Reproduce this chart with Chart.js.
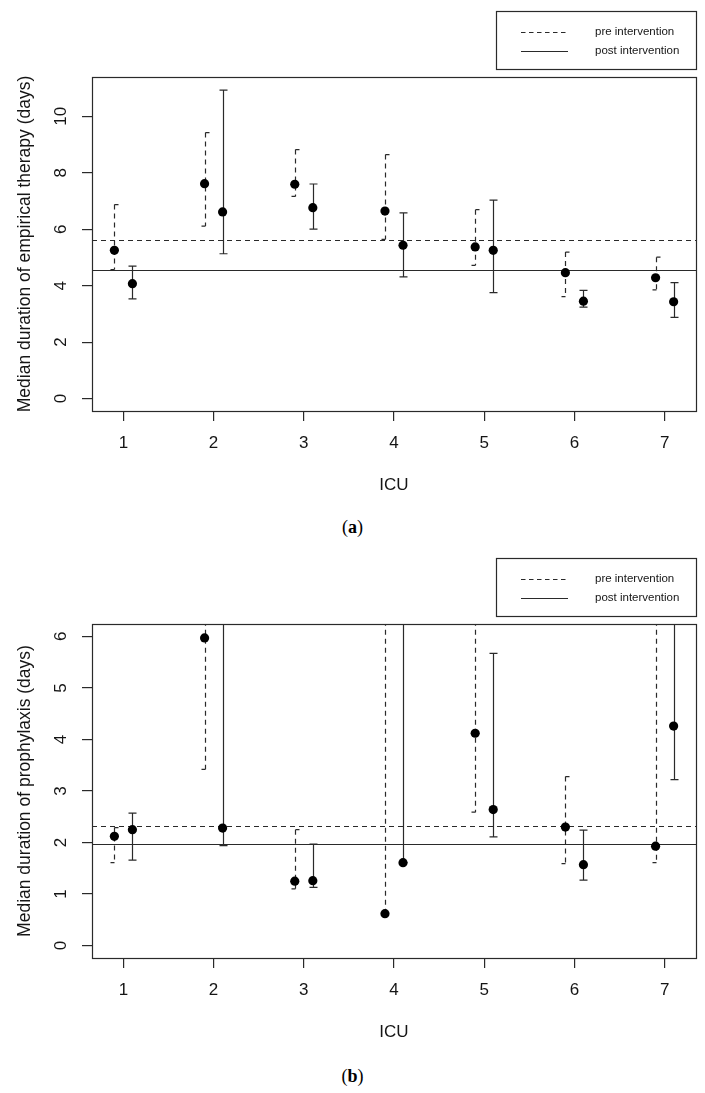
<!DOCTYPE html>
<html><head><meta charset="utf-8">
<script src="https://cdn.jsdelivr.net/npm/chart.js@4/dist/chart.umd.min.js"></script>
<style>
html,body{margin:0;padding:0;background:#fff;}
body{width:705px;height:1093px;position:relative;overflow:hidden;}
canvas{position:absolute;left:0;}
#ca{top:0;} #cb{top:547px;}
.cap{position:absolute;left:0;width:705px;text-align:center;font-family:'Liberation Serif','DejaVu Serif',serif;font-size:18px;line-height:20px;color:#000;}
</style></head><body>
<canvas id="ca" width="705" height="500"></canvas>
<div class="cap" style="top:517px">(<b>a</b>)</div>
<canvas id="cb" width="705" height="500"></canvas>
<div class="cap" style="top:1066px">(<b>b</b>)</div>
<script>
// ---------- data ----------
const icu = [1, 2, 3, 4, 5, 6, 7];
const xTicks = [1, 2, 3, 4, 5, 6, 7];
const xLim = [0.9, 7.1];

// (a) empirical therapy
const aYTicks = [0, 2, 4, 6, 8, 10];
const aYLim = [0, 10.95];
const aPreMed  = [5.25, 7.61, 7.59, 6.64, 5.37, 4.46, 4.28];
const aPreLo   = [4.57, 6.11, 7.16, 5.64, 4.72, 3.61, 3.85];
const aPreHi   = [6.87, 9.42, 8.82, 8.64, 6.69, 5.19, 5.01];
const aPostMed = [4.07, 6.61, 6.76, 5.43, 5.25, 3.45, 3.43];
const aPostLo  = [3.53, 5.13, 6.00, 4.31, 3.75, 3.24, 2.88];
const aPostHi  = [4.69, 10.92, 7.60, 6.58, 7.03, 3.83, 4.11];
const aPreOverall = 5.63;
const aPostOverall = 4.57;

// (b) prophylaxis (upper limits of 7 are off-scale estimates, clipped at the frame)
const bYTicks = [0, 1, 2, 3, 4, 5, 6];
const bYLim = [0, 6];
const bPreMed  = [2.12, 5.97, 1.25, 0.62, 4.12, 2.30, 1.93];
const bPreLo   = [1.61, 3.42, 1.10, 0.62, 2.59, 1.59, 1.61];
const bPreHi   = [2.29, 7.0, 2.25, 7.0, 7.0, 3.28, 7.0];
const bPostMed = [2.25, 2.28, 1.26, 1.61, 2.64, 1.57, 4.26];
const bPostLo  = [1.66, 1.94, 1.13, 1.61, 2.11, 1.27, 3.22];
const bPostHi  = [2.57, 7.0, 1.97, 7.0, 5.67, 2.24, 7.0];
const bPreOverall = 2.33;
const bPostOverall = 1.98;

const legendLabels = ['pre intervention', 'post intervention'];

// ---------- helpers ----------
const INK = '#2a2a2a';
const TXT = '#151515';
const FONT = "'Liberation Sans', Arial, Helvetica, sans-serif";
Chart.defaults.font.family = FONT;
const dodge = 0.1;
const ext = (lim) => { const d = (lim[1] - lim[0]) * 0.04; return [lim[0] - d, lim[1] + d]; };

const rPlot = {
  id: 'rplot',
  beforeDatasetsDraw(chart, args, o) {
    const {ctx, chartArea: ca, scales: {x, y}} = chart;
    ctx.save();
    ctx.beginPath();
    ctx.rect(ca.left, ca.top, ca.right - ca.left, ca.bottom - ca.top);
    ctx.clip();
    ctx.strokeStyle = INK;
    ctx.lineWidth = 1.2;
    const hline = (v) => {
      const yp = Math.round(y.getPixelForValue(v)) + 0.5;
      ctx.beginPath(); ctx.moveTo(ca.left, yp); ctx.lineTo(ca.right, yp); ctx.stroke();
    };
    ctx.setLineDash([5, 4]); hline(o.preOverall);
    ctx.setLineDash([]); hline(o.postOverall);
    o.icu.forEach((c, i) => {
      // pre: dashed with half caps
      let xp = Math.round(x.getPixelForValue(c - dodge)) + 0.5;
      let yl = y.getPixelForValue(o.preLo[i]), yh = y.getPixelForValue(o.preHi[i]);
      ctx.setLineDash([5, 4]);
      ctx.beginPath(); ctx.moveTo(xp, yh); ctx.lineTo(xp, yl); ctx.stroke();
      ctx.setLineDash([]);
      ctx.beginPath(); ctx.moveTo(xp, yh); ctx.lineTo(xp + 4, yh);
      ctx.moveTo(xp - 4, yl); ctx.lineTo(xp, yl); ctx.stroke();
      // post: solid with full caps
      xp = Math.round(x.getPixelForValue(c + dodge)) + 0.5;
      yl = y.getPixelForValue(o.postLo[i]); yh = y.getPixelForValue(o.postHi[i]);
      ctx.beginPath(); ctx.moveTo(xp, yh); ctx.lineTo(xp, yl);
      ctx.moveTo(xp - 4, yh); ctx.lineTo(xp + 4, yh);
      ctx.moveTo(xp - 4, yl); ctx.lineTo(xp + 4, yl);
      ctx.stroke();
    });
    ctx.restore();
  },
  afterDraw(chart, args, o) {
    const {ctx, chartArea: ca, scales: {y}} = chart;
    ctx.save();
    // frame
    ctx.strokeStyle = INK; ctx.lineWidth = 1.2; ctx.setLineDash([]);
    ctx.strokeRect(Math.round(ca.left) + 0.5, Math.round(ca.top) + 0.5,
                   Math.round(ca.right - ca.left), Math.round(ca.bottom - ca.top));
    // rotated y tick labels (R style)
    ctx.fillStyle = TXT;
    ctx.font = '17px ' + FONT;
    ctx.textAlign = 'center'; ctx.textBaseline = 'middle';
    y.ticks.forEach(t => {
      const yp = y.getPixelForValue(t.value);
      ctx.save(); ctx.translate(61, yp); ctx.rotate(-Math.PI / 2);
      ctx.fillText(String(t.value), 0, 0); ctx.restore();
    });
    // legend box
    const L = Math.round(ca.right) - 200, T = Math.round(ca.top) - 66;
    ctx.lineWidth = 1.2;
    ctx.strokeRect(L + 0.5, T + 0.5, 200, 58);
    ctx.setLineDash([4.5, 3.5]);
    ctx.beginPath(); ctx.moveTo(L + 25, T + 21.5); ctx.lineTo(L + 72, T + 21.5); ctx.stroke();
    ctx.setLineDash([]);
    ctx.beginPath(); ctx.moveTo(L + 25, T + 40.5); ctx.lineTo(L + 72, T + 40.5); ctx.stroke();
    ctx.font = '11.5px ' + FONT;
    ctx.textAlign = 'left';
    ctx.fillText(legendLabels[0], L + 99, T + 21);
    ctx.fillText(legendLabels[1], L + 99, T + 40);
    ctx.restore();
  }
};

function buildChart(id, yLim, yTicks, yTitle, pre, preLo, preHi, post, postLo, postHi, preOverall, postOverall) {
  const xr = ext(xLim), yr = ext(yLim);
  const grid = {drawOnChartArea: false, drawTicks: true, tickLength: 10, color: INK, lineWidth: 1.2};
  return new Chart(document.getElementById(id), {
    type: 'scatter',
    data: {
      datasets: [
        {label: legendLabels[0], data: icu.map((c, i) => ({x: c - dodge, y: pre[i]})),
         pointRadius: 4.6, backgroundColor: '#000', borderWidth: 0},
        {label: legendLabels[1], data: icu.map((c, i) => ({x: c + dodge, y: post[i]})),
         pointRadius: 4.6, backgroundColor: '#000', borderWidth: 0}
      ]
    },
    options: {
      responsive: false, animation: false, events: [],
      layout: {padding: {top: 77, right: 9, left: 0, bottom: 0}},
      plugins: {
        legend: {display: false}, tooltip: {enabled: false},
        rplot: {icu, preLo, preHi, postLo, postHi, preOverall, postOverall}
      },
      scales: {
        x: {
          type: 'linear', min: xr[0], max: xr[1],
          afterBuildTicks: s => { s.ticks = xTicks.map(v => ({value: v})); },
          afterFit: s => { s.height = 89; },
          grid, border: {display: false},
          ticks: {padding: 12, font: {size: 17}, color: TXT, callback: v => String(v)},
          title: {display: true, text: 'ICU', font: {size: 17}, color: TXT, padding: {top: 0, bottom: 4}}
        },
        y: {
          type: 'linear', min: yr[0], max: yr[1],
          afterBuildTicks: s => { s.ticks = yTicks.map(v => ({value: v})); },
          afterFit: s => { s.width = 92; },
          grid, border: {display: false},
          ticks: {display: false},
          title: {display: true, text: yTitle, font: {size: 17.5}, color: TXT, padding: {top: 15, bottom: 0}}
        }
      }
    },
    plugins: [rPlot]
  });
}

buildChart('ca', aYLim, aYTicks, 'Median duration of empirical therapy (days)',
  aPreMed, aPreLo, aPreHi, aPostMed, aPostLo, aPostHi, aPreOverall, aPostOverall);
buildChart('cb', bYLim, bYTicks, 'Median duration of prophylaxis (days)',
  bPreMed, bPreLo, bPreHi, bPostMed, bPostLo, bPostHi, bPreOverall, bPostOverall);
</script>
</body></html>
